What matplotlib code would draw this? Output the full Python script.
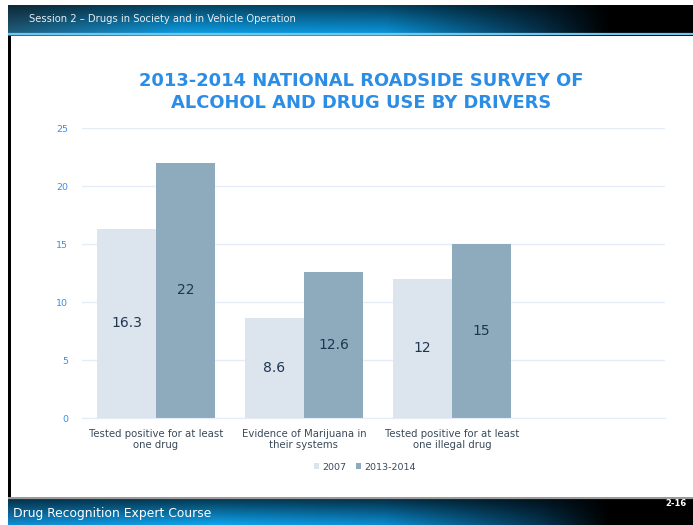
import numpy as np
import matplotlib
matplotlib.use("Agg")
import matplotlib.pyplot as plt
from matplotlib.colors import LinearSegmentedColormap

# Data
categories = ["Tested positive for at least\none drug",
              "Evidence of Marijuana in\ntheir systems",
              "Tested positive for at least\none illegal drug"]
series_names = ["2007", "2013-2014"]
values_2007 = [16.3, 8.6, 12]
values_2014 = [22, 12.6, 15]
y_ticks = [0, 5, 10, 15, 20, 25]

title = "2013-2014 NATIONAL ROADSIDE SURVEY OF\nALCOHOL AND DRUG USE BY DRIVERS"
header_text = "Session 2 \u2013 Drugs in Society and in Vehicle Operation"
footer_text = "Drug Recognition Expert Course"
page_text = "2-16"

C_2007 = "#dce4ee"
C_2014 = "#8eaabd"
C_LABEL = "#1f3552"
C_TICK = "#3a8ee6"
C_GRID = "#e4ecf8"
C_TITLE = "#2b8de6"

W, H = 693, 525
fig = plt.figure(figsize=(W / 100, H / 100), dpi=100)
fig.patch.set_facecolor("white")


def band_image(stops, top_dark, bottom_bright):
    # horizontal colour ramp times a vertical brightness ramp (row 0 = top)
    cmap = LinearSegmentedColormap.from_list("band", stops)
    row = cmap(np.linspace(0, 1, 400))[:, :3]
    fade = np.linspace(top_dark, bottom_bright, 40)[:, None, None]
    return np.clip(row[None, :, :] * fade, 0, 1)


# Header band
hdr = fig.add_axes([8 / W, 1 - 36 / H, 1 - 8 / W, 31 / H])
hdr.imshow(band_image([(0.0, "#1f5a78"), (0.25, "#0c95d8"), (0.55, "#0a8ed0"),
                       (0.78, "#05304a"), (0.88, "#000000"), (1.0, "#000000")],
                      0.45, 1.1),
           aspect="auto", extent=[0, 1, 0, 1], origin="upper")
hdr.axhline(0.06, color="#6cc8ee", lw=1.6)
hdr.set_axis_off()
hdr.text(0.03, 0.55, header_text, color="#e8eef2", fontsize=7.2,
         va="center", ha="left", transform=hdr.transAxes)

# Footer band
ftr = fig.add_axes([8 / W, 0, 1 - 8 / W, 28 / H])
ftr.imshow(band_image([(0.0, "#0e7fbf"), (0.3, "#0c95d8"), (0.55, "#0a7fbd"),
                       (0.78, "#04304a"), (0.88, "#000000"), (1.0, "#000000")],
                      0.3, 1.1),
           aspect="auto", extent=[0, 1, 0, 1], origin="upper")
ftr.axhline(0.97, color="#9a9a9a", lw=1.6)
ftr.set_axis_off()
ftr.text(0.008, 0.4, footer_text, color="white", fontsize=8.9,
         va="center", ha="left", transform=ftr.transAxes)
ftr.text(0.99, 0.78, page_text, color="white", fontsize=6,
         fontweight="bold", va="center", ha="right", transform=ftr.transAxes)

# Left black border
lb = fig.add_axes([8 / W, 28 / H, 3 / W, 1 - 64 / H])
lb.set_facecolor("black")
lb.set_xticks([])
lb.set_yticks([])
for s in lb.spines.values():
    s.set_visible(False)

# Chart
ax = fig.add_axes([82 / W, 1 - 418 / H, (665 - 82) / W, (418 - 128) / H])
x = np.arange(len(categories))
bw = 0.4
b1 = ax.bar(x - bw / 2, values_2007, bw, color=C_2007, label=series_names[0], zorder=2)
b2 = ax.bar(x + bw / 2, values_2014, bw, color=C_2014, label=series_names[1], zorder=2)

for bars in (b1, b2):
    for r in bars:
        v = r.get_height()
        ax.text(r.get_x() + r.get_width() / 2, v / 2, f"{v:g}",
                ha="center", va="center", fontsize=10, color=C_LABEL, zorder=3)

ax.set_xlim(-0.5, 3.44)
ax.set_ylim(0, 25)
ax.set_yticks(y_ticks)
ax.yaxis.grid(True, color=C_GRID, lw=1)
ax.set_axisbelow(True)
ax.tick_params(axis="y", length=0, labelsize=6.8, labelcolor=C_TICK, pad=10)
ax.set_xticks(x)
ax.set_xticklabels(categories, fontsize=7.3, color="#3a4a5a", linespacing=1.15)
ax.tick_params(axis="x", length=0, pad=8)
for s in ["top", "right", "left"]:
    ax.spines[s].set_visible(False)
ax.spines["bottom"].set_color(C_GRID)

leg = ax.legend(loc="center", bbox_to_anchor=((365 - 82) / (665 - 82), -49 / 290), ncol=2,
                frameon=False, fontsize=6.8, handlelength=0.5, handleheight=0.5,
                handletextpad=0.4, columnspacing=1.0)
for t in leg.get_texts():
    t.set_color("#3a4a5a")

fig.text(361 / W, 1 - 92 / H, title, ha="center", va="center", fontsize=12.9,
         fontweight="bold", color=C_TITLE, linespacing=1.3)

fig.savefig("out.png", dpi=100)
